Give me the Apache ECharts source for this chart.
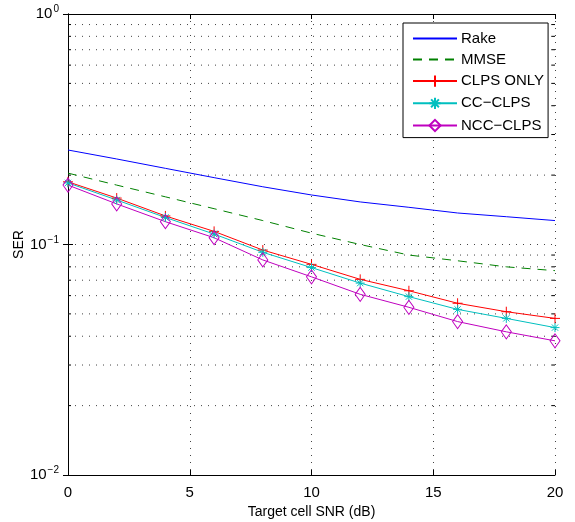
<!DOCTYPE html>
<html>
<head>
<meta charset="utf-8">
<script src="https://cdn.jsdelivr.net/npm/echarts@6/dist/echarts.min.js"></script>
<style>
    html, body { margin: 0; padding: 0; background: #fff; }
    #chart { width: 575px; height: 522px; }
</style>
</head>
<body>
<div id="chart"></div>
<script>
// SNR values (dB)
const snr = [0, 2, 4, 6, 8, 10, 12, 14, 16, 18, 20];

// SER per receiver
const rake = [0.257, 0.235, 0.214, 0.195, 0.178, 0.164, 0.153, 0.145, 0.137, 0.132, 0.127];
const mmse = [0.204, 0.181, 0.161, 0.143, 0.127, 0.112, 0.100, 0.090, 0.085, 0.080, 0.077];
const clpsOnly = [0.187, 0.159, 0.133, 0.114, 0.0946, 0.082, 0.0706, 0.063, 0.0556, 0.0511, 0.0478];
const ccClps = [0.185, 0.156, 0.131, 0.111, 0.0925, 0.0794, 0.068, 0.0594, 0.0523, 0.0478, 0.0436];
const nccClps = [0.181, 0.150, 0.1256, 0.107, 0.0857, 0.0724, 0.0608, 0.0534, 0.0463, 0.0418, 0.0382];

// minor log grid values
const minorTicks = [0.02, 0.03, 0.04, 0.05, 0.06, 0.07, 0.08, 0.09,
    0.2, 0.3, 0.4, 0.5, 0.6, 0.7, 0.8, 0.9];

const FONT = 'Liberation Sans, Arial, Helvetica, sans-serif';
const DOT = [1, 6];

const pair = ys => snr.map((x, i) => [x, ys[i]]);

const PLUS = 'path://M5,0L5,10M0,5L10,5';
const STAR = 'path://M5,0L5,10M0,5L10,5M1.5,1.5L8.5,8.5M1.5,8.5L8.5,1.5';

const chart = echarts.init(document.getElementById('chart'));

const lineSeries = (name, ys, color, opts) => Object.assign({
    name: name,
    type: 'line',
    data: pair(ys),
    symbol: 'none',
    lineStyle: { color: color, width: 1 },
    itemStyle: { color: color },
    emphasis: { disabled: true },
    animation: false,
    z: 5
}, opts || {});

const option = {
    animation: false,
    grid: { left: 68, right: 20, top: 14, bottom: 47, outerBoundsMode: 'none' },
    textStyle: { fontFamily: FONT },
    legend: {
        data: [
            { name: 'Rake', itemStyle: { opacity: 0 } },
            { name: 'MMSE', itemStyle: { opacity: 0 } },
            'CLPS ONLY', 'CC\u2212CLPS', 'NCC\u2212CLPS'
        ],
        orient: 'vertical',
        left: 403,
        top: 23,
        padding: [8, 4, 4, 9],
        itemWidth: 44,
        itemHeight: 14,
        itemGap: 6,
        backgroundColor: '#fff',
        borderColor: '#000',
        borderWidth: 1,
        borderRadius: 0,
        textStyle: { fontFamily: FONT, fontSize: 15, lineHeight: 14, color: '#000', padding: [0, 0, 0, -1] },
        selectedMode: false
    },
    xAxis: [{
        type: 'value',
        min: 0,
        max: 20,
        interval: 5,
        name: 'Target cell SNR (dB)',
        nameLocation: 'middle',
        nameGap: 30,
        nameMoveOverlap: false,
        nameTextStyle: { fontFamily: FONT, fontSize: 14, color: '#000' },
        axisLine: { lineStyle: { color: '#000', width: 1 } },
        axisTick: { inside: true, length: 5, lineStyle: { color: '#000' } },
        axisLabel: { fontFamily: FONT, fontSize: 15, color: '#000', margin: 10 },
        splitLine: { show: true, lineStyle: { color: '#444', type: DOT, width: 1 } }
    }, {
        type: 'value',
        position: 'top',
        min: 0,
        max: 20,
        interval: 5,
        axisLine: { lineStyle: { color: '#000', width: 1 } },
        axisTick: { inside: true, length: 5, lineStyle: { color: '#000' } },
        axisLabel: { show: false },
        splitLine: { show: false }
    }],
    yAxis: [{
        type: 'log',
        logBase: 10,
        min: 0.01,
        max: 1,
        name: 'SER',
        nameLocation: 'middle',
        nameGap: 42,
        nameMoveOverlap: false,
        nameTextStyle: { fontFamily: FONT, fontSize: 14, color: '#000' },
        axisLine: { lineStyle: { color: '#000', width: 1 } },
        axisTick: { inside: true, length: 5, lineStyle: { color: '#000' } },
        axisLabel: {
            margin: 9,
            formatter: v => '{b|10}{s|' + String(Math.round(Math.log10(v))).replace('-', '\u2212') + '}',
            rich: {
                b: { fontFamily: FONT, fontSize: 15, color: '#000' },
                s: { fontFamily: FONT, fontSize: 10, color: '#000', padding: [0, 0, 9, 1] }
            }
        },
        splitLine: { show: true, lineStyle: { color: '#444', type: DOT, width: 1 } }
    }, {
        type: 'log',
        logBase: 10,
        position: 'right',
        min: 0.01,
        max: 1,
        axisLine: { lineStyle: { color: '#000', width: 1 } },
        axisTick: { inside: true, length: 5, lineStyle: { color: '#000' } },
        axisLabel: { show: false },
        splitLine: { show: false }
    }],
    series: [
        {
            type: 'custom',
            data: minorTicks.map(v => [0, v]),
            silent: true,
            z: 1,
            renderItem: (params, api) => {
                const v = api.value(1);
                const p0 = api.coord([0, v]);
                const p1 = api.coord([20, v]);
                return {
                    type: 'group',
                    children: [{
                        type: 'line',
                        shape: { x1: p0[0], y1: p0[1], x2: p1[0], y2: p1[1] },
                        style: { stroke: '#444', lineWidth: 1, lineDash: DOT }
                    }, {
                        type: 'line',
                        shape: { x1: p0[0], y1: p0[1], x2: p0[0] + 3, y2: p0[1] },
                        style: { stroke: '#000', lineWidth: 1 }
                    }, {
                        type: 'line',
                        shape: { x1: p1[0] - 3, y1: p1[1], x2: p1[0], y2: p1[1] },
                        style: { stroke: '#000', lineWidth: 1 }
                    }]
                };
            }
        },
        lineSeries('Rake', rake, '#0000ff'),
        lineSeries('MMSE', mmse, '#008000', {
            lineStyle: { color: '#008000', width: 1, type: [9, 7] }
        }),
        lineSeries('CLPS ONLY', clpsOnly, '#ff0000', {
            symbol: PLUS,
            symbolSize: 10,
            itemStyle: { color: 'none', borderColor: '#ff0000', borderWidth: 1 }
        }),
        lineSeries('CC\u2212CLPS', ccClps, '#00bfbf', {
            symbol: STAR,
            symbolSize: 9,
            itemStyle: { color: 'none', borderColor: '#00bfbf', borderWidth: 1 }
        }),
        lineSeries('NCC\u2212CLPS', nccClps, '#bf00bf', {
            symbol: 'diamond',
            symbolSize: [10, 14],
            itemStyle: { color: 'none', borderColor: '#bf00bf', borderWidth: 1 }
        })
    ]
};

chart.setOption(option);
</script>
</body>
</html>
